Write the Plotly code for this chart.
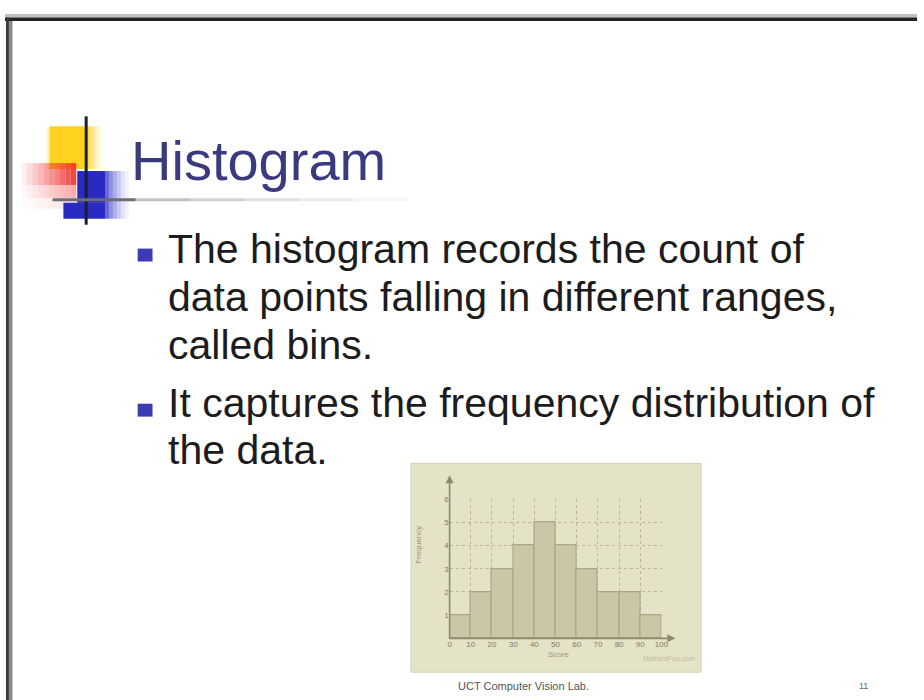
import plotly.graph_objects as go

# ---------------- data ----------------
bin_edges = [0, 10, 20, 30, 40, 50, 60, 70, 80, 90, 100]
counts = [1, 2, 3, 4, 5, 4, 3, 2, 2, 1]
y_ticks = [1, 2, 3, 4, 5, 6]
x_ticks = [0, 10, 20, 30, 40, 50, 60, 70, 80, 90, 100]

title_text = "Histogram"
bullet_lines = [
    ["The histogram records the count of",
     "data points falling in different ranges,",
     "called bins."],
    ["It captures the frequency distribution of",
     "the data."],
]
footer_text = "UCT Computer Vision Lab."
page_number = "11"

W, H = 924, 700


def px(x):
    return x / W


def py(y):
    return 1 - y / H


centers = [(a + b) / 2 for a, b in zip(bin_edges[:-1], bin_edges[1:])]
widths = [b - a for a, b in zip(bin_edges[:-1], bin_edges[1:])]

fig = go.Figure()
fig.add_trace(go.Bar(
    x=centers, y=counts, width=widths,
    marker=dict(color="#c9c7a5", line=dict(color="#a9a786", width=1.2)),
    hoverinfo="x+y", showlegend=False,
))

shapes = []
# slide frame
shapes.append(dict(type="rect", xref="paper", yref="paper", x0=px(3), x1=px(924), y0=py(10), y1=py(13.5),
                   fillcolor="#c0c0c0", line=dict(width=0), layer="above"))
shapes.append(dict(type="rect", xref="paper", yref="paper", x0=px(3), x1=px(924), y0=py(13.5), y1=py(17),
                   fillcolor="#222222", line=dict(width=0), layer="above"))
shapes.append(dict(type="rect", xref="paper", yref="paper", x0=px(4), x1=px(7), y0=py(13.5), y1=py(700),
                   fillcolor="#3c3c3c", line=dict(width=0), layer="above"))
shapes.append(dict(type="rect", xref="paper", yref="paper", x0=px(7), x1=px(10.5), y0=py(17), y1=py(700),
                   fillcolor="#888888", line=dict(width=0), layer="above"))


def strip_rect(x0, x1, y0, y1, color, op):
    shapes.append(dict(type="rect", xref="paper", yref="paper", x0=px(x0), x1=px(x1), y0=py(y0), y1=py(y1),
                       fillcolor=color, opacity=op, line=dict(width=0), layer="above"))


# logo: yellow
strip_rect(48, 86, 123, 166, "#ffd21f", 1.0)
for i, op in enumerate([0.8, 0.6, 0.4, 0.25, 0.12]):
    strip_rect(86 + i * 3, 89 + i * 3, 123, 166, "#ffd21f", op)
for i, op in enumerate([0.5, 0.25]):
    strip_rect(46 - i * 2, 48 - i * 2, 125, 166, "#ffe070", op)
# red gradient
for i in range(10):
    op = 0.08 + 0.09 * i
    strip_rect(20 + i * 5.5, 25.5 + i * 5.5, 160, 182, "#f03030", op)
    strip_rect(20 + i * 5.5, 25.5 + i * 5.5, 182, 195, "#f46060", op * 0.6)
    strip_rect(20 + i * 5.5, 25.5 + i * 5.5, 195, 206, "#f8a0a0", op * 0.35)
# blue
strip_rect(76, 104, 168, 200, "#2a2ac0", 1.0)
strip_rect(62, 104, 200, 216, "#2a2ac0", 1.0)
for i, op in enumerate([0.75, 0.55, 0.4, 0.27, 0.15, 0.07]):
    strip_rect(104 + i * 4, 108 + i * 4, 168, 216, "#3535c8", op)
# logo lines
shapes.append(dict(type="line", xref="paper", yref="paper", x0=px(85), x1=px(85), y0=py(113), y1=py(222),
                   line=dict(color="#1e1e2a", width=3), layer="above"))
shapes.append(dict(type="line", xref="paper", yref="paper", x0=px(51), x1=px(135), y0=py(197), y1=py(197),
                   line=dict(color="#6d6d78", width=3), layer="above"))
for i, op in enumerate([0.6, 0.45, 0.3, 0.18, 0.08]):
    shapes.append(dict(type="line", xref="paper", yref="paper", x0=px(135 + i * 55), x1=px(190 + i * 55),
                       y0=py(197), y1=py(197), opacity=op,
                       line=dict(color="#9a9aa0", width=3), layer="above"))

# bullets
bullet_y = [252, 408]
for by in bullet_y:
    shapes.append(dict(type="rect", xref="paper", yref="paper", x0=px(137), x1=px(152), y0=py(by - 6),
                       y1=py(by + 7), fillcolor="#3b3bb5", line=dict(width=0), layer="above"))

# histogram image background
shapes.append(dict(type="rect", xref="paper", yref="paper", x0=px(413), x1=px(706), y0=py(462), y1=py(672),
                   fillcolor="#e5e3c7", line=dict(color="#d4d2b2", width=1), layer="below"))

fig.update_layout(shapes=shapes)

annotations = []
annotations.append(dict(text=title_text, x=px(128), y=py(157), xref="paper", yref="paper",
                        xanchor="left", yanchor="middle", showarrow=False,
                        font=dict(family="Liberation Sans, Arial, sans-serif", size=56, color="#3a3a7e")))

line_baselines = [[261, 310, 358], [416, 464]]
for group, bases in zip(bullet_lines, line_baselines):
    for txt, b in zip(group, bases):
        annotations.append(dict(text=txt, x=px(166), y=py(b - 15), xref="paper", yref="paper",
                                xanchor="left", yanchor="middle", showarrow=False,
                                font=dict(family="Liberation Sans, Arial, sans-serif", size=41, color="#1c1c1c")))

annotations.append(dict(text=footer_text, x=px(527), y=py(686), xref="paper", yref="paper",
                        xanchor="center", yanchor="middle", showarrow=False,
                        font=dict(family="Liberation Sans, Arial, sans-serif", size=11, color="#555555")))
annotations.append(dict(text=page_number, x=px(870), y=py(686), xref="paper", yref="paper",
                        xanchor="center", yanchor="middle", showarrow=False,
                        font=dict(family="Liberation Sans, Arial, sans-serif", size=9, color="#666666")))

# axis arrows
annotations.append(dict(x=px(680), y=py(638), xref="paper", yref="paper", ax=-228, ay=0, text="",
                        showarrow=True, arrowhead=2, arrowsize=1, arrowwidth=1.6, arrowcolor="#8c8a6c"))
annotations.append(dict(x=px(452), y=py(474), xref="paper", yref="paper", ax=0, ay=164, text="",
                        showarrow=True, arrowhead=2, arrowsize=1, arrowwidth=1.6, arrowcolor="#8c8a6c"))
annotations.append(dict(text="Frequency", x=px(421), y=py(565), xref="paper", yref="paper", textangle=-90,
                        showarrow=False, font=dict(family="Liberation Sans, Arial", size=8, color="#9a987c")))
annotations.append(dict(text="Score", x=px(562), y=py(661), xref="paper", yref="paper",
                        showarrow=False, font=dict(family="Liberation Sans, Arial", size=8, color="#9a987c")))
annotations.append(dict(text="MathsIsFun.com", x=px(702), y=py(664), xref="paper", yref="paper",
                        xanchor="right", showarrow=False,
                        font=dict(family="Liberation Sans, Arial", size=7, color="#bdbb9c")))

fig.update_layout(
    annotations=annotations,
    width=W, height=H,
    margin=dict(l=0, r=0, t=0, b=0),
    paper_bgcolor="white",
    plot_bgcolor="rgba(0,0,0,0)",
    bargap=0,
    xaxis=dict(domain=[px(452), px(666)], range=[0, 100], tickvals=x_ticks,
               showgrid=True, gridcolor="#b9b798", griddash="dot", gridwidth=1,
               zeroline=False, showline=False, ticks="",
               tickfont=dict(family="Liberation Sans, Arial", size=8, color="#7e7c62"),
               fixedrange=True),
    yaxis=dict(domain=[py(638), py(498)], range=[0, 6], tickvals=y_ticks,
               showgrid=True, gridcolor="#b9b798", griddash="dot", gridwidth=1,
               zeroline=False, showline=False, ticks="",
               tickfont=dict(family="Liberation Sans, Arial", size=8, color="#7e7c62"),
               fixedrange=True),
)

fig.write_html("out.html", config={"displayModeBar": False},
               post_script="document.body.style.margin='0px';document.body.style.overflow='hidden';")
